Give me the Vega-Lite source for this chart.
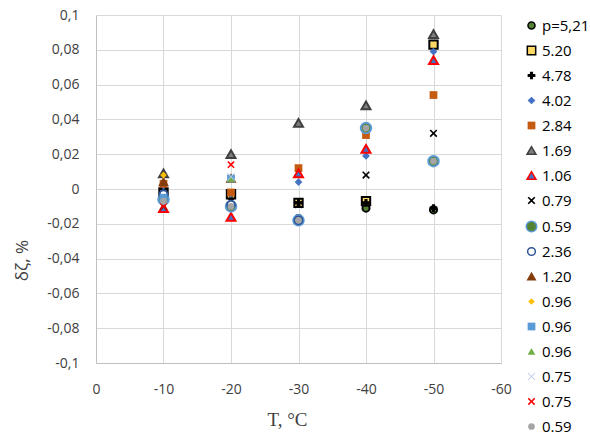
{
  "$schema": "https://vega.github.io/schema/vega-lite/v6.json",
  "width": 405,
  "height": 348,
  "autosize": "none",
  "padding": {"left": 96, "top": 15, "right": 89, "bottom": 71},
  "background": "white",
  "config": {
    "locale": {"number": {"decimal": ",", "thousands": " ", "grouping": [3], "currency": ["", ""], "minus": "-"}},
    "font": "Open Sans",
    "view": {"stroke": null}
  },
  "data": {
    "values": [
      {"s": "p=5,21", "T": -10, "v": -0.001}, {"s": "p=5,21", "T": -20, "v": -0.004}, {"s": "p=5,21", "T": -30, "v": -0.017}, {"s": "p=5,21", "T": -40, "v": -0.011}, {"s": "p=5,21", "T": -50, "v": -0.012},
      {"s": "5.20", "T": -10, "v": -0.002}, {"s": "5.20", "T": -20, "v": -0.003}, {"s": "5.20", "T": -30, "v": -0.008}, {"s": "5.20", "T": -40, "v": -0.007}, {"s": "5.20", "T": -50, "v": 0.083},
      {"s": "4.78", "T": -10, "v": 0.0}, {"s": "4.78", "T": -20, "v": -0.003}, {"s": "4.78", "T": -30, "v": -0.008}, {"s": "4.78", "T": -40, "v": -0.008}, {"s": "4.78", "T": -50, "v": -0.011},
      {"s": "4.02", "T": -10, "v": 0.002}, {"s": "4.02", "T": -20, "v": -0.003}, {"s": "4.02", "T": -30, "v": 0.004}, {"s": "4.02", "T": -40, "v": 0.019}, {"s": "4.02", "T": -50, "v": 0.079},
      {"s": "2.84", "T": -10, "v": 0.003}, {"s": "2.84", "T": -20, "v": -0.002}, {"s": "2.84", "T": -30, "v": 0.012}, {"s": "2.84", "T": -40, "v": 0.031}, {"s": "2.84", "T": -50, "v": 0.054},
      {"s": "1.69", "T": -10, "v": 0.009}, {"s": "1.69", "T": -20, "v": 0.02}, {"s": "1.69", "T": -30, "v": 0.038}, {"s": "1.69", "T": -40, "v": 0.048}, {"s": "1.69", "T": -50, "v": 0.089},
      {"s": "1.06", "T": -10, "v": -0.011}, {"s": "1.06", "T": -20, "v": -0.016}, {"s": "1.06", "T": -30, "v": 0.009}, {"s": "1.06", "T": -40, "v": 0.023}, {"s": "1.06", "T": -50, "v": 0.074},
      {"s": "0.79", "T": -10, "v": -0.01}, {"s": "0.79", "T": -20, "v": 0.006}, {"s": "0.79", "T": -30, "v": -0.009}, {"s": "0.79", "T": -40, "v": 0.008}, {"s": "0.79", "T": -50, "v": 0.032},
      {"s": "0.59", "T": -10, "v": -0.006}, {"s": "0.59", "T": -20, "v": -0.01}, {"s": "0.59", "T": -30, "v": -0.018}, {"s": "0.59", "T": -40, "v": 0.035}, {"s": "0.59", "T": -50, "v": 0.016},
      {"s": "2.36", "T": -10, "v": -0.003}, {"s": "2.36", "T": -20, "v": -0.009}, {"s": "2.36", "T": -30, "v": -0.018},
      {"s": "1.20", "T": -10, "v": 0.004}, {"s": "1.20", "T": -20, "v": 0.006},
      {"s": "0.96", "T": -10, "v": 0.008},
      {"s": "0.96 ", "T": -10, "v": -0.005}, {"s": "0.96 ", "T": -20, "v": 0.006},
      {"s": "0.96  ", "T": -20, "v": 0.006},
      {"s": "0.75", "T": -20, "v": 0.007},
      {"s": "0.75 ", "T": -10, "v": -0.01}, {"s": "0.75 ", "T": -20, "v": 0.014},
      {"s": "0.59 ", "T": -10, "v": -0.007}, {"s": "0.59 ", "T": -20, "v": -0.01}, {"s": "0.59 ", "T": -30, "v": -0.018}, {"s": "0.59 ", "T": -40, "v": 0.035}, {"s": "0.59 ", "T": -50, "v": 0.016}
    ]
  },
  "mark": {"type": "point", "opacity": 1},
  "encoding": {
    "x": {
      "field": "T", "type": "quantitative",
      "scale": {"domain": [0, -60], "nice": false},
      "axis": {
        "title": "T, °C", "values": [0, -10, -20, -30, -40, -50, -60], "format": "d",
        "grid": true, "gridColor": "#d9d9d9", "domainColor": "#bfbfbf", "ticks": false, "labelFlush": false,
        "labelFontSize": 14, "labelColor": "#404040", "labelPadding": 19,
        "titleFont": "Liberation Serif", "titleFontSize": 19, "titleFontWeight": "normal", "titleColor": "#404040", "titlePadding": 14, "titleX": 191
      }
    },
    "y": {
      "field": "v", "type": "quantitative",
      "scale": {"domain": [-0.1, 0.1], "nice": false},
      "axis": {
        "title": "δζ, %", "values": [-0.1, -0.08, -0.06, -0.04, -0.02, 0, 0.02, 0.04, 0.06, 0.08, 0.1], "format": ".2~f",
        "grid": true, "gridColor": "#d9d9d9", "domainColor": "#bfbfbf", "ticks": false, "labelFlush": false,
        "labelFontSize": 14, "labelColor": "#404040", "labelPadding": 17,
        "titleFontSize": 17, "titleFontWeight": "normal", "titleColor": "#404040",
        "titleAngle": -90, "titleX": -74, "titleY": 245, "titleAlign": "center", "titleBaseline": "middle"
      }
    },
    "shape": {
      "field": "s", "type": "nominal",
      "scale": {
        "domain": ["p=5,21", "5.20", "4.78", "4.02", "2.84", "1.69", "1.06", "0.79", "0.59", "2.36", "1.20", "0.96", "0.96 ", "0.96  ", "0.75", "0.75 ", "0.59 "],
        "range": ["circle", "square", "cross", "diamond", "square", "triangle-up", "triangle-up", "M-1,-0.7L-0.7,-1L0,-0.3L0.7,-1L1,-0.7L0.3,0L1,0.7L0.7,1L0,0.3L-0.7,1L-1,0.7L-0.3,0Z", "circle", "circle", "triangle-up", "diamond", "square", "triangle-up", "M-1,-0.85L-0.85,-1L0,-0.15L0.85,-1L1,-0.85L0.15,0L1,0.85L0.85,1L0,0.15L-0.85,1L-1,0.85L-0.15,0Z", "M-1,-0.7L-0.7,-1L0,-0.3L0.7,-1L1,-0.7L0.3,0L1,0.7L0.7,1L0,0.3L-0.7,1L-1,0.7L-0.3,0Z", "circle"]
      },
      "legend": {
        "title": null, "orient": "none", "legendX": 428, "legendY": 3,
        "labelFontSize": 15, "labelColor": "#000000", "rowPadding": 9, "symbolStrokeWidth": 1.5, "labelOffset": 3
      }
    },
    "fill": {
      "field": "s", "type": "nominal",
      "scale": {
        "domain": ["p=5,21", "5.20", "4.78", "4.02", "2.84", "1.69", "1.06", "0.79", "0.59", "2.36", "1.20", "0.96", "0.96 ", "0.96  ", "0.75", "0.75 ", "0.59 "],
        "range": ["#548235", "#FFD966", "#000000", "#4472C4", "#C55A11", "#7F7F7F", "#4472C4", "#000000", "#548235", "#FFFFFF", "#843C0C", "#FFC000", "#5B9BD5", "#70AD47", "#B4C7E7", "#FF0000", "#A5A5A5"]
      },
      "legend": {"title": null}
    },
    "stroke": {
      "field": "s", "type": "nominal",
      "scale": {
        "domain": ["p=5,21", "5.20", "4.78", "4.02", "2.84", "1.69", "1.06", "0.79", "0.59", "2.36", "1.20", "0.96", "0.96 ", "0.96  ", "0.75", "0.75 ", "0.59 "],
        "range": ["#000000", "#000000", "transparent", "transparent", "transparent", "#404040", "#FF0000", "transparent", "#5B9BD5", "#2F5597", "#843C0C", "transparent", "transparent", "transparent", "transparent", "transparent", "transparent"]
      },
      "legend": {"title": null}
    },
    "size": {
      "field": "s", "type": "nominal",
      "scale": {
        "type": "ordinal",
        "domain": ["p=5,21", "5.20", "4.78", "4.02", "2.84", "1.69", "1.06", "0.79", "0.59", "2.36", "1.20", "0.96", "0.96 ", "0.96  ", "0.75", "0.75 ", "0.59 "],
        "range": [50, 70, 60, 60, 60, 80, 80, 60, 110, 60, 55, 45, 60, 60, 60, 55, 45]
      },
      "legend": {"title": null}
    },
    "strokeWidth": {"value": 2}
  }
}
